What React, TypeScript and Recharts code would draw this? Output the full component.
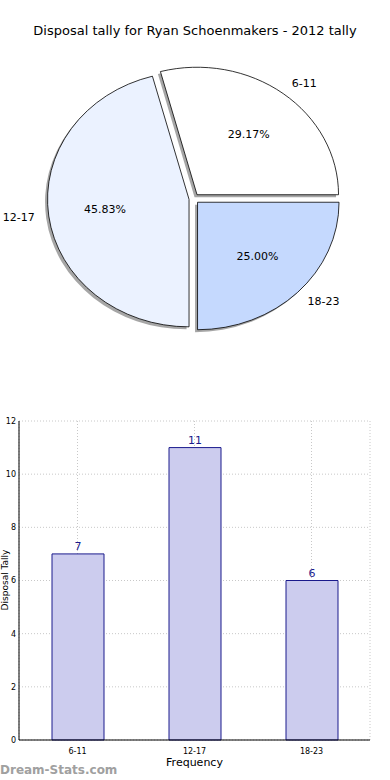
import React from "react";
import {
  PieChart,
  Pie,
  Cell,
  BarChart,
  Bar,
  XAxis,
  YAxis,
  CartesianGrid,
  LabelList,
  Label,
} from "recharts";

const categories = ["6-11", "12-17", "18-23"];
const tally = [7, 11, 6];
const yTicks = [0, 2, 4, 6, 8, 10, 12];
const sliceColors = ["#ffffff", "#ebf2ff", "#c5d9fe"];

const rows = categories.map((name, i) => ({ name, value: tally[i] }));

const FONT = "DejaVu Sans";
const RAD = Math.PI / 180;
const RY_RATIO = 127.5 / 141.5;
const EXPLODE = 5;

const point = (x: number, y: number, rx: number, ry: number, a: number) =>
  `${x + rx * Math.cos(a * RAD)} ${y - ry * Math.sin(a * RAD)}`;

const slicePath = (x: number, y: number, rx: number, ry: number, s: number, e: number) =>
  `M ${x} ${y} L ${point(x, y, rx, ry, s)} A ${rx} ${ry} 0 ${e - s > 180 ? 1 : 0} 0 ${point(x, y, rx, ry, e)} Z`;

// matplotlib-style exploded wedge with shadow, squashed into an ellipse
const EllipseSlice = (props: any) => {
  const { cx, cy, outerRadius, startAngle, endAngle, fill } = props;
  const mid = ((startAngle + endAngle) / 2) * RAD;
  const ox = cx + EXPLODE * Math.cos(mid);
  const oy = cy - EXPLODE * Math.sin(mid);
  const rx = outerRadius;
  const ry = outerRadius * RY_RATIO;
  return (
    <g>
      <path d={slicePath(ox - 2.5, oy + 2.5, rx, ry, startAngle, endAngle)} fill="#4d4d4d" fillOpacity={0.5} />
      <path d={slicePath(ox, oy, rx, ry, startAngle, endAngle)} fill={fill} stroke="#000" strokeWidth={0.8} />
    </g>
  );
};

const sliceLabel = (props: any) => {
  const { cx, cy, outerRadius, midAngle, percent, name } = props;
  const m = midAngle * RAD;
  const ox = cx + EXPLODE * Math.cos(m);
  const oy = cy - EXPLODE * Math.sin(m);
  const rx = outerRadius;
  const ry = outerRadius * RY_RATIO;
  const c = Math.cos(m);
  const s = Math.sin(m);
  return (
    <g>
      <text x={ox + 0.6 * rx * c} y={oy - 0.6 * ry * s} textAnchor="middle" dominantBaseline="central" fontSize={11} fontFamily={FONT} fill="#000">
        {(percent * 100).toFixed(2)}%
      </text>
      <text x={ox + 1.1 * rx * c} y={oy - 1.1 * ry * s} textAnchor={c > 0 ? "start" : "end"} dominantBaseline="central" fontSize={11} fontFamily={FONT} fill="#000">
        {name}
      </text>
    </g>
  );
};

export default function App() {
  return (
    <div style={{ position: "absolute", left: 0, top: 0, width: 390, height: 780, background: "#fff", fontFamily: FONT }}>
      <div style={{ position: "absolute", left: 0, top: 0 }}>
        <PieChart width={390} height={400} margin={{ top: 0, right: 0, bottom: 0, left: 0 }}>
          <text x={195} y={30} textAnchor="middle" dominantBaseline="central" fontSize={13} fontFamily={FONT} fill="#000">
            Disposal tally for Ryan Schoenmakers - 2012 tally
          </text>
          <Pie
            data={rows}
            dataKey="value"
            nameKey="name"
            cx={194}
            cy={198.7}
            outerRadius={141.5}
            startAngle={0}
            endAngle={360}
            shape={EllipseSlice}
            label={sliceLabel}
            labelLine={false}
            isAnimationActive={false}
          >
            {rows.map((r, i) => (
              <Cell key={r.name} fill={sliceColors[i]} />
            ))}
          </Pie>
        </PieChart>
      </div>
      <div style={{ position: "absolute", left: 0, top: 410 }}>
        <BarChart width={390} height={370} data={rows} margin={{ top: 11, right: 20, left: 0, bottom: 0 }}>
          <CartesianGrid stroke="#c8c8c8" strokeDasharray="1 2" />
          <XAxis
            dataKey="name"
            height={40}
            stroke="#000"
            tickLine={false}
            tick={{ fontSize: 8, fill: "#000", fontFamily: FONT }}
          >
            <Label value="Frequency" position="insideBottom" offset={14} fontSize={11} fill="#000" fontFamily={FONT} />
          </XAxis>
          <XAxis xAxisId="top" dataKey="name" orientation="top" height={0} tick={false} tickLine={false} stroke="#000" />
          <YAxis
            width={19}
            domain={[0, 12]}
            ticks={yTicks}
            stroke="#000"
            tickLine={false}
            tickSize={0}
            tickMargin={3}
            tick={{ fontSize: 8, fill: "#000", fontFamily: FONT }}
          />
          <YAxis yAxisId="right" orientation="right" width={0} tick={false} tickLine={false} stroke="#000" />
          <Bar dataKey="value" barSize={52} fill="#ccccee" stroke="#1a1a8c" strokeWidth={1} isAnimationActive={false}>
            <LabelList dataKey="value" position="top" offset={4} fontSize={11} fill="#1a1a8c" fontFamily={FONT} />
          </Bar>
        </BarChart>
      </div>
      <svg width={12} height={100} style={{ position: "absolute", left: 0, top: 530 }}>
        <text x={5} y={50} transform="rotate(-90 5 50)" textAnchor="middle" dominantBaseline="central" fontSize={9} fontFamily={FONT} fill="#000">
          Disposal Tally
        </text>
      </svg>
      <div style={{ position: "absolute", left: 0, top: 763, fontSize: 12, lineHeight: "14px", fontWeight: "bold", color: "#a0a0a0", fontFamily: FONT }}>
        Dream-Stats.com
      </div>
    </div>
  );
}
